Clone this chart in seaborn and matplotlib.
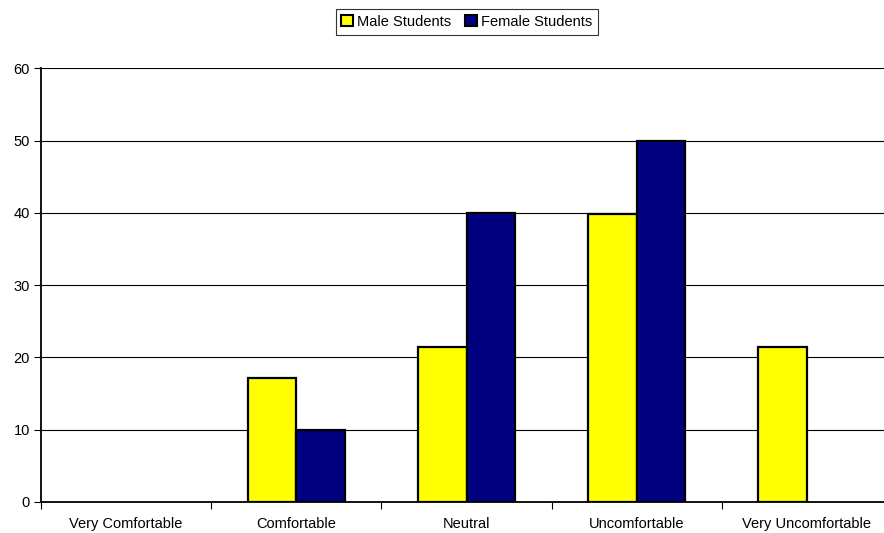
import matplotlib
matplotlib.use("Agg")
import matplotlib.pyplot as plt
import seaborn as sns
import pandas as pd
from matplotlib.patches import Patch

categories = ["Very Comfortable", "Comfortable", "Neutral", "Uncomfortable", "Very Uncomfortable"]
male_students = [0, 17.2, 21.5, 39.8, 21.5]
female_students = [0, 10, 40, 50, 0]
series_names = ["Male Students", "Female Students"]
series_colors = ["#FFFF00", "#000080"]
y_ticks = [0, 10, 20, 30, 40, 50, 60]

df = pd.DataFrame({
    "category": categories * 2,
    "value": male_students + female_students,
    "series": [series_names[0]] * len(categories) + [series_names[1]] * len(categories),
})

sns.set_style("white")
plt.rcParams["font.family"] = ["Liberation Sans", "DejaVu Sans"]
plt.rcParams["text.color"] = "black"
plt.rcParams["xtick.color"] = "black"
plt.rcParams["ytick.color"] = "black"

fig = plt.figure(figsize=(8.84, 5.33), dpi=100)
ax = fig.add_axes([0.0464, 0.0582, 0.9627, 0.8137])

sns.barplot(data=df, x="category", y="value", hue="series", order=categories,
            hue_order=series_names, palette=series_colors, width=0.57, gap=0,
            edgecolor="black", linewidth=1.6, saturation=1, errorbar=None,
            ax=ax, legend=False, zorder=3)

# hide outlines of empty bars
for p in ax.patches:
    if p.get_height() == 0:
        p.set_linewidth(0)

ax.set_ylim(0, 60)
ax.set_xlim(-0.5, len(categories) - 0.5)
ax.set_yticks(y_ticks)
ax.set_yticklabels([str(v) for v in y_ticks], fontsize=10.5, color="black")
ax.yaxis.grid(True, color="black", linewidth=0.8, zorder=0)
ax.set_axisbelow(True)

# boundaries between categories get tick marks; names sit at the centres
ax.set_xticks([i - 0.5 for i in range(len(categories) + 1)])
ax.set_xticklabels([""] * (len(categories) + 1))
ax.set_xticks(range(len(categories)), minor=True)
ax.set_xticklabels(categories, minor=True, fontsize=10.5, color="black")
ax.tick_params(axis="x", which="major", bottom=True, length=5, width=0.8,
               color="black", direction="out")
ax.tick_params(axis="x", which="minor", bottom=True, length=0, pad=11)
ax.tick_params(axis="y", left=True, length=5, width=0.8, color="black",
               direction="out", pad=3)
ax.set_xlabel("")
ax.set_ylabel("")

for side in ["top", "right"]:
    ax.spines[side].set_visible(False)
for side in ["left", "bottom"]:
    ax.spines[side].set_color("black")
    ax.spines[side].set_linewidth(1.3)
    ax.spines[side].set_zorder(4)

handles = [Patch(facecolor=c, edgecolor="black", linewidth=1.5) for c in series_colors]
leg = fig.legend(handles, series_names, loc="center", bbox_to_anchor=(0.528, 0.959),
                 ncol=2, frameon=True, fancybox=False, fontsize=10.5,
                 handlelength=0.8, handleheight=0.8, handletextpad=0.25,
                 columnspacing=1.0, borderpad=0.4, borderaxespad=0)
leg.get_frame().set_edgecolor("black")
leg.get_frame().set_linewidth(0.8)

fig.savefig("out.png", dpi=100)
